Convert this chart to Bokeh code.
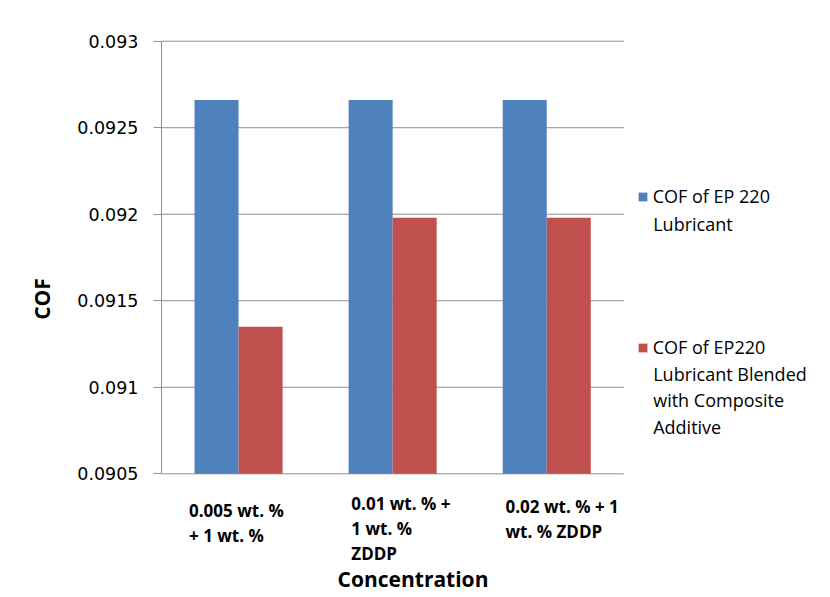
from bokeh.plotting import figure
from bokeh.models import (Range1d, FixedTicker, Legend, LegendItem, Label,
                          ColumnDataSource)
from bokeh.transform import dodge
from bokeh.embed import file_html
from bokeh.resources import INLINE

# ---------------- data ----------------
categories = ["0.005 wt. % + 1 wt. %",
              "0.01 wt. % + 1 wt. % ZDDP",
              "0.02  wt. % + 1 wt. % ZDDP"]
category_lines = [["0.005 wt. %", "+ 1 wt. %"],
                  ["0.01 wt. % +", "1 wt. %", "ZDDP"],
                  ["0.02  wt. % + 1", "wt. % ZDDP"]]
series_lines = [["COF of EP 220", "Lubricant"],
                ["COF of EP220", "Lubricant  Blended", "with Composite", "Additive"]]
cof_ep220 = [0.09266, 0.09266, 0.09266]
cof_blended = [0.09135, 0.09198, 0.09198]
y_ticks = [0.0905, 0.091, 0.0915, 0.092, 0.0925, 0.093]
y_tick_labels = ["0.0905", "0.091", "0.0915", "0.092", "0.0925", "0.093"]
x_title = "Concentration"
y_title = "COF"

# ---------------- styling / layout ----------------
BLUE = "#4F81BD"
RED = "#C0504D"
GRID = "#8e8e8e"
FONT = "Open Sans"
W, H = 830, 597
LEFT = 161                 # width of the y-axis panel
PLOT_TOP, PLOT_BOTTOM = 40.7, 473.3   # pixel rows of the value-axis ends
SLOT_PX = 154.1            # pixel width of one category slot

y_min, y_max = y_ticks[0], y_ticks[-1]
n = len(categories)
slot = [i + 0.5 for i in range(n)]          # centre of each category slot
val_per_px = (y_max - y_min) / (PLOT_BOTTOM - PLOT_TOP)


def xd(px):   # canvas pixel column -> x data
    return (px - LEFT) / SLOT_PX


def yd(py):   # canvas pixel row -> y data
    return y_max - (py - PLOT_TOP) * val_per_px


src = ColumnDataSource(dict(x=slot, cat=categories, a=cof_ep220, b=cof_blended,
                            base=[y_min] * n))
grid_src = ColumnDataSource(dict(x0=[0] * len(y_ticks), x1=[n] * len(y_ticks),
                                 y=y_ticks))

p = figure(width=W, height=H, x_range=Range1d(0, xd(W)),
           y_range=Range1d(yd(H), yd(0)), output_backend="svg",
           toolbar_location=None, title=None,
           min_border_left=LEFT, min_border_right=0,
           min_border_top=0, min_border_bottom=0)
p.outline_line_color = None
p.background_fill_color = "white"
p.border_fill_color = "white"
p.xgrid.grid_line_color = None
p.ygrid.grid_line_color = None
p.xaxis.visible = False

# horizontal gridlines across the plot area only
p.segment(x0="x0", x1="x1", y0="y", y1="y", source=grid_src,
          line_color=GRID, line_width=1)

bw = 0.2857
r1 = p.vbar(x=dodge("x", -bw / 2), top="a", bottom="base",
            width=bw, source=src, fill_color=BLUE, line_color=None)
r2 = p.vbar(x=dodge("x", bw / 2), top="b", bottom="base",
            width=bw, source=src, fill_color=RED, line_color=None)

# y axis
p.yaxis.ticker = FixedTicker(ticks=y_ticks)
p.yaxis.bounds = (y_min, y_max)
p.yaxis.major_label_overrides = {t: l for t, l in zip(y_ticks, y_tick_labels)}
p.yaxis.major_label_text_font = "DejaVu Sans"
p.yaxis.major_label_text_font_size = "17.5px"
p.yaxis.major_label_text_color = "black"
p.yaxis.major_label_standoff = 15
p.yaxis.major_tick_out = 8
p.yaxis.major_tick_in = 0
p.yaxis.minor_tick_line_color = None
p.yaxis.major_tick_line_color = GRID
p.yaxis.axis_line_color = GRID
p.yaxis.axis_label = y_title
p.yaxis.axis_label_text_font = FONT
p.yaxis.axis_label_text_font_style = "bold"
p.yaxis.axis_label_text_font_size = "21px"
p.yaxis.axis_label_text_color = "black"
p.yaxis.axis_label_standoff = 18

# category text (left-aligned lines below each group)
cat_offsets = [-49.5, -41.3, -41.2]
cat_first_y = [510, 503.3, 506]
for c, lines, xo, y0 in zip(slot, category_lines, cat_offsets, cat_first_y):
    for k, line in enumerate(lines):
        p.add_layout(Label(x=c, x_offset=xo, y=yd(y0 + 25 * k), text=line,
                           text_font=FONT, text_font_style="bold",
                           text_font_size="17px", text_color="black",
                           text_align="left", text_baseline="middle"))

p.add_layout(Label(x=xd(412.5), y=yd(578), text=x_title, text_font=FONT,
                   text_font_style="bold", text_font_size="21px",
                   text_color="black", text_align="center",
                   text_baseline="middle"))

# legend (first lines) + continuation lines
legend = Legend(items=[LegendItem(label=series_lines[0][0], renderers=[r1]),
                       LegendItem(label=series_lines[1][0], renderers=[r2])],
                location=(636.7 - LEFT, H - 359), orientation="vertical",
                padding=0, margin=0, spacing=127, border_line_color=None,
                background_fill_alpha=0, glyph_width=11, glyph_height=11,
                label_height=24, label_standoff=5,
                label_text_font=FONT, label_text_font_size="18px",
                label_text_color="black")
p.add_layout(legend)

cont_first_y = [223.3, 373.3]
for lines, y0 in zip(series_lines, cont_first_y):
    for k, line in enumerate(lines[1:]):
        p.add_layout(Label(x=xd(652.7), y=yd(y0 + 26.6 * k), text=line,
                           text_font=FONT, text_font_size="18px",
                           text_color="black", text_align="left",
                           text_baseline="middle"))

open("out.html", "w").write(file_html(p, INLINE))
